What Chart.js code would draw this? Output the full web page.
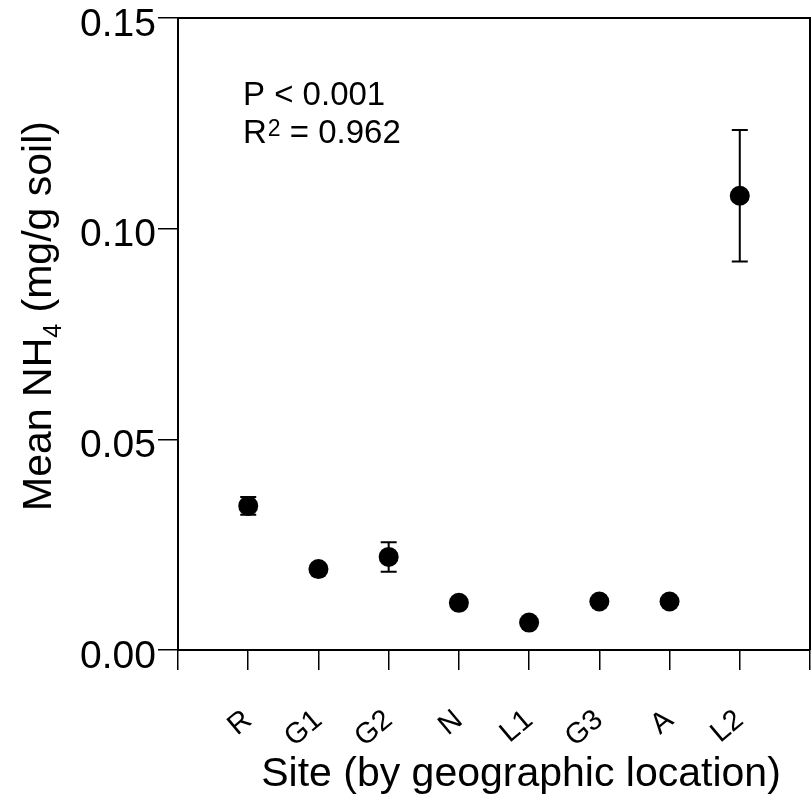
<!DOCTYPE html>
<html>
<head>
<meta charset="utf-8">
<script src="https://cdn.jsdelivr.net/npm/chart.js@4"></script>
<style>
  html, body { margin: 0; padding: 0; background: #fff; }
  #c { display: block; }
</style>
</head>
<body>
<canvas id="c" width="811" height="802"></canvas>
<script>
// ---- data ----
const sites = ['R', 'G1', 'G2', 'N', 'L1', 'G3', 'A', 'L2'];
const sitePositions = [1, 2, 3, 4, 5, 6, 7, 8];
const meanNH4 = [0.0342, 0.0192, 0.0221, 0.0112, 0.0065, 0.0115, 0.0115, 0.1078];
const seNH4 = [0.0021, 0.0010, 0.0035, 0.0008, 0.0006, 0.0008, 0.0008, 0.0156];
const yTicks = [0, 0.05, 0.10, 0.15];
const xTitle = 'Site (by geographic location)';
const yTitleParts = ['Mean NH', '4', ' (mg/g soil)'];
const statLine1 = 'P < 0.001';
const statLine2 = ['R', '2', ' = 0.962'];

const FONT = '"Liberation Sans", Arial, Helvetica, sans-serif';

const points = sitePositions.map((x, i) => ({ x: x, y: meanNH4[i] }));

const errorBars = {
  id: 'errorBars',
  beforeDatasetsDraw(chart) {
    const ctx = chart.ctx;
    const xs = chart.scales.x, ys = chart.scales.y;
    ctx.save();
    ctx.strokeStyle = '#000';
    ctx.lineWidth = 2;
    sitePositions.forEach((xv, i) => {
      const px = xs.getPixelForValue(xv);
      const top = ys.getPixelForValue(meanNH4[i] + seNH4[i]);
      const bot = ys.getPixelForValue(meanNH4[i] - seNH4[i]);
      ctx.beginPath();
      ctx.moveTo(px, top); ctx.lineTo(px, bot);
      ctx.moveTo(px - 8, top); ctx.lineTo(px + 8, top);
      ctx.moveTo(px - 8, bot); ctx.lineTo(px + 8, bot);
      ctx.stroke();
    });
    ctx.restore();
  }
};

const decorations = {
  id: 'decorations',
  afterDraw(chart) {
    const ctx = chart.ctx;
    const a = chart.chartArea;
    ctx.save();
    // frame
    ctx.strokeStyle = '#000';
    ctx.lineWidth = 2;
    ctx.beginPath();
    ctx.moveTo(a.left, a.top);
    ctx.lineTo(a.right, a.top);
    ctx.lineTo(a.right, a.bottom);
    ctx.stroke();

    ctx.fillStyle = '#000';
    ctx.textBaseline = 'alphabetic';

    // x title
    ctx.font = '41px ' + FONT;
    ctx.textAlign = 'center';
    ctx.fillText(xTitle, 521, 786);

    // y title with subscript
    const bigF = '41px ' + FONT, subF = '25px ' + FONT;
    ctx.font = bigF; const w0 = ctx.measureText(yTitleParts[0]).width;
    ctx.font = subF; const w1 = ctx.measureText(yTitleParts[1]).width;
    ctx.font = bigF; const w2 = ctx.measureText(yTitleParts[2]).width;
    const total = w0 + w1 + w2;
    ctx.save();
    ctx.translate(51, 316);
    ctx.rotate(-Math.PI / 2);
    ctx.textAlign = 'left';
    let sx = -total / 2;
    ctx.font = bigF; ctx.fillText(yTitleParts[0], sx, 0); sx += w0;
    ctx.font = subF; ctx.fillText(yTitleParts[1], sx, 10); sx += w1;
    ctx.font = bigF; ctx.fillText(yTitleParts[2], sx, 0);
    ctx.restore();

    // stats annotation
    ctx.textAlign = 'left';
    ctx.font = '33px ' + FONT;
    ctx.fillText(statLine1, 243, 105);
    let tx = 243;
    ctx.fillText(statLine2[0], tx, 143); tx += ctx.measureText(statLine2[0]).width + 1;
    ctx.font = '23px ' + FONT;
    ctx.fillText(statLine2[1], tx, 136); tx += ctx.measureText(statLine2[1]).width;
    ctx.font = '33px ' + FONT;
    ctx.fillText(statLine2[2], tx, 143);
    ctx.restore();
  }
};

function zeroPad(scale) {
  scale.paddingLeft = 0; scale.paddingRight = 0;
  scale.paddingTop = 0; scale.paddingBottom = 0;
}

new Chart(document.getElementById('c'), {
  type: 'scatter',
  data: {
    datasets: [{
      data: points,
      pointRadius: 10,
      pointHoverRadius: 10,
      pointBackgroundColor: '#000',
      pointBorderColor: '#000',
      pointBorderWidth: 0,
      showLine: false
    }]
  },
  options: {
    responsive: false,
    animation: false,
    devicePixelRatio: 1,
    layout: { autoPadding: false, padding: { top: 18, right: 1, left: 0, bottom: 0 } },
    plugins: { legend: { display: false }, tooltip: { enabled: false } },
    scales: {
      x: {
        type: 'linear',
        min: 0,
        max: 9,
        afterBuildTicks(scale) {
          scale.ticks = [0, 1, 2, 3, 4, 5, 6, 7, 8, 9].map(v => ({ value: v }));
        },
        afterFit(scale) { scale.height = 152; zeroPad(scale); },
        ticks: {
          autoSkip: false,
          minRotation: 40,
          maxRotation: 40,
          padding: 33,
          color: '#000',
          font: { family: FONT, size: 29 },
          callback(v) { const i = sitePositions.indexOf(v); return i >= 0 ? sites[i] : ''; }
        },
        grid: { drawOnChartArea: false, drawTicks: true, tickLength: 20, color: '#000', lineWidth: 1.5 },
        border: { display: true, color: '#000', width: 2 }
      },
      y: {
        type: 'linear',
        min: 0,
        max: 0.15,
        afterBuildTicks(scale) {
          scale.ticks = yTicks.map(v => ({ value: v }));
        },
        afterFit(scale) { scale.width = 178; zeroPad(scale); },
        ticks: {
          padding: 2,
          labelOffset: 7,
          color: '#000',
          font: { family: FONT, size: 39 },
          callback(v) { return Number(v).toFixed(2); }
        },
        grid: { drawOnChartArea: false, drawTicks: true, tickLength: 20, color: '#000', lineWidth: 1.5 },
        border: { display: true, color: '#000', width: 2 }
      }
    }
  },
  plugins: [errorBars, decorations]
});
</script>
</body>
</html>
